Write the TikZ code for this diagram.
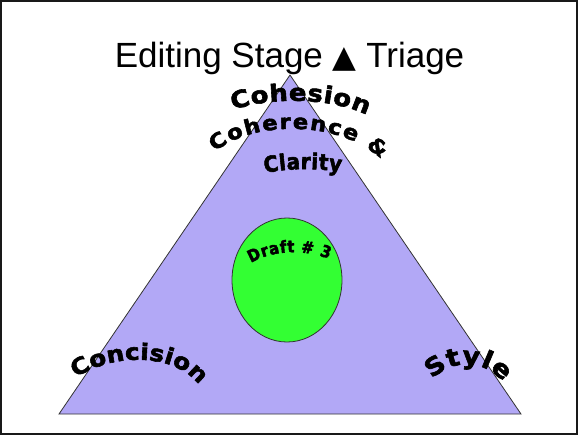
\documentclass[tikz,border=0pt]{standalone}
\usepackage{fontspec}
\setmainfont{Liberation Sans}
\newfontfamily\artwide{DejaVu Sans}[FakeStretch=1.1, FakeBold=2.5]
\newfontfamily\artnarrow{DejaVu Sans}[FakeStretch=0.9, FakeBold=2.5]
\newfontfamily\symfont{DejaVu Sans}
\usetikzlibrary{decorations.text}
\definecolor{triagefill}{RGB}{178,168,246}
\definecolor{draftfill}{RGB}{51,255,51}
\newcommand\wideart[1]{\artwide\bfseries\fontsize{#1}{#1}\selectfont}
\newcommand\narrowart[1]{\artnarrow\bfseries\fontsize{#1}{#1}\selectfont}
\tikzset{
	slideframe/.style={draw=black!90, line width=2pt},
	triage/.style={draw=black!80, line width=0.8pt, fill=triagefill},
	draft/.style={draw=black!80, line width=0.8pt, fill=draftfill},
	wordart/.style={decorate, decoration={text along path, text align={fit to path}, text={#1}}},
}
\begin{document}
\begin{tikzpicture}[x=1pt, y=-1pt]
		\useasboundingbox (0,0) rectangle (580,436);
		\draw[slideframe] (1,1) rectangle (577.4,433.8);
		\node [anchor=base, font=\fontsize{35}{36}\selectfont] at (289.5,67) (title) {Editing Stage {\symfont\fontsize{31}{36}\selectfont ▲} Triage};
		\coordinate (apex) at (290,75);
		\coordinate (baseleft) at (59,414);
		\coordinate (baseright) at (521,414);
		\draw[triage] (baseleft) -- (apex) -- (baseright) -- cycle;
		\draw[draft] (287,280) ellipse [x radius=55, y radius=62];
		\path[wordart={|\wideart{23.5}|Cohesion}] (233,110) .. controls (270,97) and (330,97) .. (367,115);
		\path[wordart={|\wideart{20.5}|Coherence {\&}}] (215,152) .. controls (252,120) and (340,120) .. (381,159);
		\path[wordart={|\narrowart{22}|Clarity}] (265,173) .. controls (290,168) and (315,168) .. (341,172);
		\path[wordart={|\narrowart{16.5}|Draft {\#} 3}] (251,263) .. controls (272,250) and (305,249) .. (329,259);
		\path[wordart={|\wideart{22.5}|Concision}] (76,378) .. controls (108,355) and (172,350) .. (199,385);
		\path[wordart={|\wideart{24.5}|Style}] (432,379) .. controls (452,360) and (483,358) .. (503,382);
\end{tikzpicture}
\end{document}
